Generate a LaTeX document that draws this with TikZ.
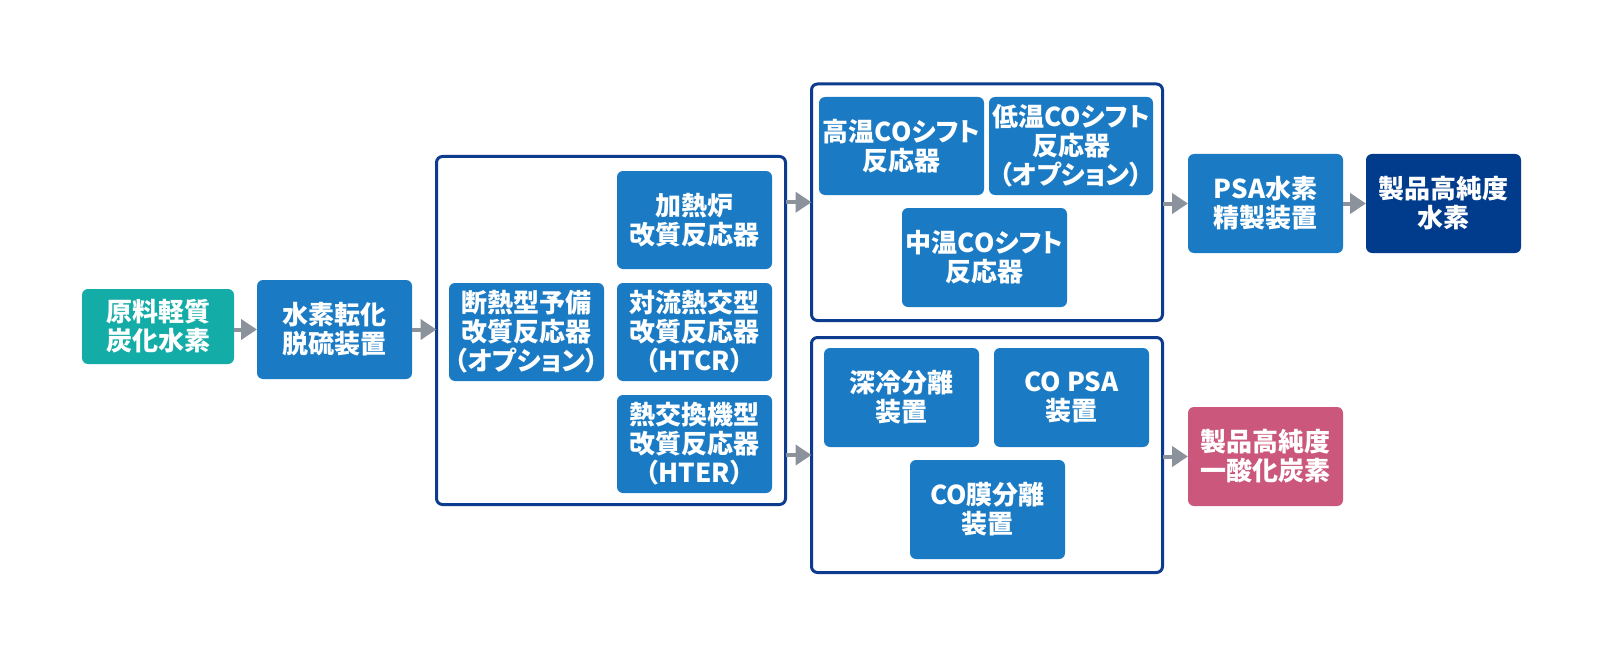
\documentclass[tikz,border=0pt]{standalone}
\usepackage{fontspec}
\setmainfont{Noto Sans CJK JP}[RawFeature=+palt]
\usetikzlibrary{arrows.meta}
\definecolor{boxblue}{HTML}{1A7AC4}
\definecolor{teal}{HTML}{14ACA6}
\definecolor{navy}{HTML}{0D3C8E}
\definecolor{darkbox}{HTML}{003B8C}
\definecolor{pinkbox}{HTML}{CB587C}
\definecolor{arrgray}{HTML}{8B929B}
\tikzset{
  box/.style={fill=boxblue, rounded corners=6pt, inner sep=0pt, outer sep=0pt,
    minimum width=155pt, minimum height=98pt, text=white, align=center,
    font=\fontsize{26}{29}\selectfont\bfseries},
  cont/.style={draw=navy, line width=3pt, rounded corners=6pt, inner sep=0pt, outer sep=0pt, fill=white},
  arr/.style={draw=arrgray, line width=4pt, -{Triangle[length=16pt,width=20pt]}}
}
\begin{document}
\begin{tikzpicture}[x=1pt,y=-1pt]
\useasboundingbox[fill=white] (0,0) rectangle (1601,650);
% containers
\node[cont, minimum width=349pt, minimum height=348pt] (c1) at (611,330.5) {};
\node[cont, minimum width=351pt, minimum height=236.5pt] (c2) at (987,202.25) {};
\node[cont, minimum width=351pt, minimum height=235pt] (c3) at (987,455) {};
% boxes
\node[box, fill=teal, minimum width=152pt, minimum height=75pt] (raw) at (158,326.5) {原料軽質\\炭化水素};
\node[box, minimum height=99pt] (desulf) at (334.5,329.5) {水素転化\\脱硫装置};
\node[box] (heat) at (694.5,220) {加熱炉\\改質反応器};
\node[box] (adiab) at (526.5,332) {断熱型予備\\改質反応器\\（オプション）};
\node[box] (conv) at (694.5,332) {対流熱交型\\改質反応器\\（HTCR）};
\node[box] (hex) at (694.5,444) {熱交換機型\\改質反応器\\（HTER）};
\node[box, minimum width=165pt] (hts) at (901.5,146) {高温COシフト\\反応器};
\node[box, minimum width=164pt] (lts) at (1071,146) {低温COシフト\\反応器\\（オプション）};
\node[box, minimum width=165pt, minimum height=99pt] (mts) at (984.5,257.5) {中温COシフト\\反応器};
\node[box, minimum height=99pt] (cryo) at (901.5,397.5) {深冷分離\\装置};
\node[box, minimum height=99pt] (copsa) at (1071.5,397.5) {CO PSA\\装置};
\node[box, minimum height=99pt] (comem) at (987.5,509.5) {CO膜分離\\装置};
\node[box, minimum height=99pt] (psa) at (1265.5,203.5) {PSA水素\\精製装置};
\node[box, fill=darkbox, minimum height=99pt] (h2) at (1443.5,203.5) {製品高純度\\水素};
\node[box, fill=pinkbox, minimum height=99pt] (co) at (1265.5,456.5) {製品高純度\\一酸化炭素};
% arrows
\draw[arr] (raw.east |- desulf.center) -- (desulf.west);
\draw[arr] (desulf.east) -- (c1.west |- desulf.east);
\draw[arr] (c1.east |- c2.center) -- (c2.west);
\draw[arr] (c1.east |- c3.center) -- (c3.west);
\draw[arr] (c2.east |- psa.center) -- (psa.west);
\draw[arr] (psa.east) -- (h2.west);
\draw[arr] (c3.east |- co.center) -- (co.west);
\end{tikzpicture}
\end{document}
